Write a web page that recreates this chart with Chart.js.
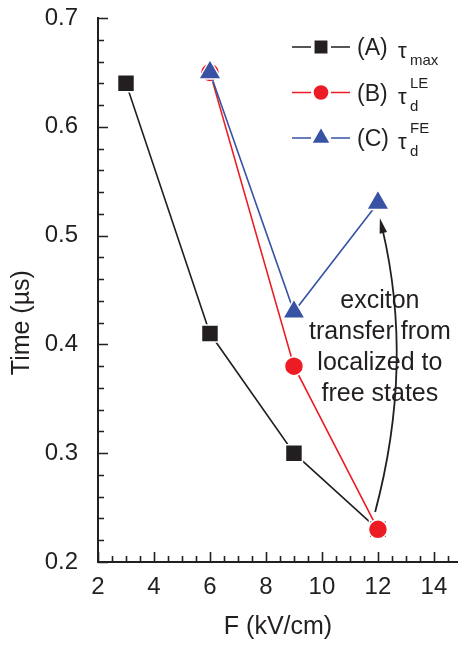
<!DOCTYPE html>
<html>
<head>
<meta charset="utf-8">
<script src="https://cdn.jsdelivr.net/npm/chart.js@4.4.0/dist/chart.umd.min.js"></script>
<style>
  html, body { margin: 0; padding: 0; background: #fff; }
  #wrap { width: 458px; height: 646px; position: relative; }
</style>
</head>
<body>
<div id="wrap"><canvas id="timeChart"></canvas></div>
<script>
// field (kV/cm) and times (us) for each series
const fieldA = [3, 6, 9, 12];
const tauMax = [0.64, 0.41, 0.30, 0.23];
const fieldB = [6, 9, 12];
const tauLE = [0.65, 0.38, 0.23];
const fieldC = [6, 9, 12];
const tauFE = [0.65, 0.43, 0.53];

const seriesNames = ['(A)', '(B)', '(C)'];
const seriesSub = ['max', 'd', 'd'];
const seriesSup = ['', 'LE', 'FE'];
const noteLines = ['exciton', 'transfer from', 'localized to', 'free states'];
const yTitle = 'Time (\u00b5s)';

const ink = '#231f20';
const fam = '"Liberation Sans", Arial, Helvetica, sans-serif';

function toPoints(xs, ys){
  return xs.map((x, i) => ({x: x, y: ys[i]}));
}

// inward major/minor ticks on both axes, plus the y title
const innerTicks = {
  id: 'innerTicks',
  afterDraw(chart){
    const ctx = chart.ctx;
    const xs = chart.scales.x, ys = chart.scales.y;
    const area = chart.chartArea;
    ctx.save();
    ctx.strokeStyle = ink;
    ctx.lineWidth = 1.6;
    ctx.beginPath();
    for (let v = 2; v <= 14.51; v += 0.5){
      const px = Math.round(xs.getPixelForValue(v)) + 0.5;
      const len = (Math.abs(v % 2) < 0.01) ? 10 : 6;
      ctx.moveTo(px, area.bottom);
      ctx.lineTo(px, area.bottom - len);
    }
    for (let i = 0; i <= 25; i++){
      const v = 0.2 + i * 0.02;
      const py = Math.round(ys.getPixelForValue(v)) + 0.5;
      const len = (i % 5 === 0) ? 10 : 6;
      ctx.moveTo(area.left, py);
      ctx.lineTo(area.left + len, py);
    }
    ctx.stroke();

    // y title sits a bit below the middle of the axis
    ctx.translate(22, ys.getPixelForValue(0.42));
    ctx.rotate(-Math.PI / 2);
    ctx.fillStyle = ink;
    ctx.font = '25px ' + fam;
    ctx.textAlign = 'center';
    ctx.textBaseline = 'middle';
    ctx.fillText(yTitle, 0, 0);
    ctx.restore();
  }
};

// legend with greek symbol and sub/superscripts
const tauLegend = {
  id: 'tauLegend',
  afterDraw(chart){
    const ctx = chart.ctx;
    ctx.save();
    chart.data.datasets.forEach((ds, i) => {
      const y = 47 + i * 45.5;
      ctx.strokeStyle = ds.borderColor;
      ctx.lineWidth = ds.borderWidth || 1.6;
      ctx.beginPath();
      ctx.moveTo(292, y); ctx.lineTo(311, y);
      ctx.moveTo(331, y); ctx.lineTo(350, y);
      ctx.stroke();
      ctx.fillStyle = ds.pointBackgroundColor;
      ctx.strokeStyle = '#fff';
      ctx.lineWidth = 1.5;
      Chart.helpers.drawPoint(ctx, {
        pointStyle: ds.pointStyle, radius: ds.pointRadius * 0.85, rotation: 0, borderWidth: 1.5
      }, 321, y);

      ctx.fillStyle = ink;
      ctx.textBaseline = 'alphabetic';
      ctx.textAlign = 'left';
      ctx.font = '23px ' + fam;
      ctx.fillText(seriesNames[i], 357, y + 8);
      ctx.font = '22px ' + fam;
      ctx.fillText('\u03c4', 398, y + 11);
      ctx.font = '15px ' + fam;
      if (seriesSub[i]) ctx.fillText(seriesSub[i], 410, y + 18);
      if (seriesSup[i]) ctx.fillText(seriesSup[i], 410, y - 5);
    });
    ctx.restore();
  }
};

// curved arrow and text note
const transferNote = {
  id: 'transferNote',
  afterDraw(chart){
    const ctx = chart.ctx;
    const xs = chart.scales.x, ys = chart.scales.y;
    const p0 = [xs.getPixelForValue(11.9), ys.getPixelForValue(0.246)];
    const c = [xs.getPixelForValue(13.3), ys.getPixelForValue(0.381)];
    const tip = [xs.getPixelForValue(12.07), ys.getPixelForValue(0.516)];
    const ang = Math.atan2(tip[1] - c[1], tip[0] - c[0]);
    const headLen = 15, headW = 3.8;
    const bx = tip[0] - Math.cos(ang) * headLen, by = tip[1] - Math.sin(ang) * headLen;

    ctx.save();
    ctx.strokeStyle = ink;
    ctx.fillStyle = ink;
    ctx.lineWidth = 1.8;
    ctx.beginPath();
    ctx.moveTo(p0[0], p0[1]);
    ctx.quadraticCurveTo(c[0], c[1], bx + Math.cos(ang) * 4, by + Math.sin(ang) * 4);
    ctx.stroke();
    ctx.beginPath();
    ctx.moveTo(tip[0], tip[1]);
    ctx.lineTo(bx - Math.sin(ang) * headW, by + Math.cos(ang) * headW);
    ctx.lineTo(bx + Math.sin(ang) * headW, by - Math.cos(ang) * headW);
    ctx.closePath();
    ctx.fill();

    ctx.font = '25px ' + fam;
    ctx.textAlign = 'center';
    ctx.textBaseline = 'alphabetic';
    const tx = xs.getPixelForValue(12.07);
    const ty = ys.getPixelForValue(0.433);
    noteLines.forEach((line, i) => ctx.fillText(line, tx, ty + i * 31));
    ctx.restore();
  }
};

const ctx = document.getElementById('timeChart').getContext('2d');
const myChart = new Chart(ctx, {
  type: 'line',
  data: {
    datasets: [{
      label: 'tau max',
      data: toPoints(fieldA, tauMax),
      borderColor: ink,
      pointBackgroundColor: ink,
      pointBorderColor: '#fff',
      pointStyle: 'rect',
      pointRadius: 12,
      order: 3
    }, {
      label: 'tau d LE',
      data: toPoints(fieldB, tauLE),
      borderColor: '#ed1c24',
      pointBackgroundColor: '#ed1c24',
      pointBorderColor: '#fff',
      pointStyle: 'circle',
      pointRadius: 9.5,
      order: 2
    }, {
      label: 'tau d FE',
      data: toPoints(fieldC, tauFE),
      borderColor: '#3853a4',
      pointBackgroundColor: '#3853a4',
      pointBorderColor: '#fff',
      pointStyle: 'triangle',
      pointRadius: 13,
      order: 1
    }]
  },
  options: {
    responsive: true,
    maintainAspectRatio: false,
    animation: false,
    datasets: {
      line: { borderWidth: 1.6, pointBorderWidth: 1.5, tension: 0, fill: false, clip: false }
    },
    layout: { autoPadding: false, padding: { top: 18, right: 0, bottom: 0, left: 0 } },
    plugins: {
      legend: { display: false },
      tooltip: { enabled: false }
    },
    scales: {
      x: {
        type: 'linear',
        min: 2,
        max: 14.86,
        grid: { display: false },
        border: { display: true, color: ink, width: 2 },
        ticks: {
          stepSize: 2, includeBounds: false, padding: 3, color: ink,
          font: { family: fam, size: 24 }
        },
        title: {
          display: true, text: 'F (kV/cm)', color: ink,
          font: { family: fam, size: 25 }, padding: { top: 0, bottom: 4 }
        },
        afterFit: s => { s.height = 84; s.paddingLeft = 0; s.paddingRight = 0; }
      },
      y: {
        min: 0.2,
        max: 0.7,
        grid: { display: false },
        border: { display: true, color: ink, width: 2 },
        ticks: {
          stepSize: 0.1, padding: 12, color: ink,
          font: { family: fam, size: 24 },
          callback: v => v.toFixed(1)
        },
        afterFit: s => { s.width = 98; s.paddingTop = 0; s.paddingBottom = 0; }
      }
    }
  },
  plugins: [innerTicks, tauLegend, transferNote]
});
</script>
</body>
</html>
